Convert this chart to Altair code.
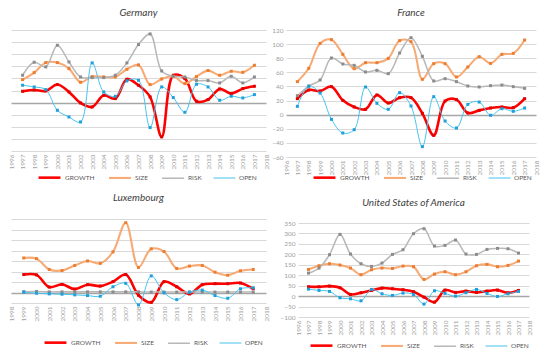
import altair as alt
import pandas as pd

SERIES = ["GROWTH", "SIZE", "RISK", "OPEN"]
LINE_COLORS = ["#FF0000", "#F7AA74", "#B8B8B8", "#45C4F0"]
MARK_COLORS = ["#E00000", "#ED7D31", "#8C8C8C", "#1E9FDB"]
WIDTHS = [2.6, 1.0, 1.0, 1.2]

# Germany 1997-2017
de_years = list(range(1997, 2018))
de_growth = [18.7, 20.9, 19.3, 29.8, 17.6, -0.6, -7.2, 12.1, 6.6, 38.6, 28.7, 9.4, -56.7, 45.2, 39.7, 2.2, 5.0, 22.6, 14.9, 23.1, 27.0]
de_size = [38.0, 49.6, 66.1, 66.1, 56.2, 33.6, 43.0, 42.4, 42.4, 55.1, 62.3, 29.8, 39.1, 43.5, 31.4, 43.0, 52.9, 45.2, 51.8, 50.1, 61.7]
de_risk = [45.2, 66.7, 59.0, 94.8, 67.2, 42.4, 41.3, 41.3, 45.2, 65.6, 95.9, 113.5, 52.3, 43.5, 42.4, 36.4, 36.4, 32.5, 43.5, 32.5, 42.4]
de_open = [28.7, 25.9, 21.5, -12.7, -23.7, -32.0, 65.6, 17.6, 10.5, 35.8, 36.9, -41.3, 25.9, 8.3, -16.0, 30.3, 25.9, 3.9, 10.5, 7.7, 13.2]

# France 1997-2017
fr_years = list(range(1997, 2018))
fr_growth = [22.7, 35.0, 33.5, 39.7, 20.3, 10.9, 7.6, 27.9, 16.5, 24.1, 24.1, 1.9, -29.3, 19.4, 21.3, 2.4, 6.1, 9.4, 10.9, 9.9, 22.7]
fr_size = [46.8, 65.7, 101.0, 106.3, 85.5, 65.2, 73.7, 73.7, 79.8, 104.9, 103.4, 50.1, 72.3, 72.3, 53.4, 67.5, 82.2, 72.7, 85.5, 86.9, 105.8]
fr_risk = [26.9, 40.6, 49.1, 80.3, 71.8, 69.9, 60.5, 62.8, 58.1, 87.4, 109.1, 82.7, 47.7, 51.0, 46.8, 40.6, 39.2, 41.1, 42.0, 39.7, 37.3]
fr_open = [11.8, 40.2, 30.7, -6.6, -26.0, -21.3, 39.2, 16.1, 7.6, 31.2, 12.3, -45.3, 25.5, -9.0, -18.9, 14.6, 17.9, -0.9, 8.5, 4.7, 9.4]

# Luxembourg 1999-2017
lu_years = list(range(1999, 2018))
lu_growth = [85.5, 83.9, 25.8, 38.7, 16.1, 37.1, 30.6, 51.6, 85.5, -12.9, -46.8, 51.6, 27.4, -6.5, 37.1, 41.9, 41.9, 45.2, 17.7]
lu_size = [164.5, 161.3, 109.7, 104.8, 129.0, 150.0, 138.7, 193.5, 332.3, 119.4, 208.0, 195.2, 114.5, 125.8, 129.0, 96.8, 82.3, 103.2, 109.7]
lu_risk = [4, 5, 3, 3, 3, 3, 3, 3, 3, 3, 2, 2, 2, 2, 2, 2, 2, 2, 2]
lu_open = [1.6, -3.2, -6.5, -8.1, -11.3, -14.5, -17.7, 27.4, 43.5, -59.0, 79.0, -1.6, -33.9, 1.6, 11.3, -14.5, -27.4, 17.7, 22.6]

# United States 1997-2017
us_years = list(range(1997, 2018))
us_growth = [44.7, 44.7, 47.9, 39.9, 8.0, 16.0, 27.2, 38.3, 35.1, 30.4, 20.8, -4.8, -28.8, 28.8, 17.6, 24.0, 17.6, 24.0, 28.8, 16.0, 27.2]
us_size = [127.8, 145.4, 155.0, 148.6, 134.2, 102.2, 126.2, 134.2, 132.6, 143.8, 140.6, 79.9, 105.4, 116.6, 102.2, 116.6, 145.4, 151.8, 140.6, 147.0, 167.7]
us_risk = [110.2, 134.2, 198.0, 295.5, 201.3, 155.0, 142.2, 158.1, 199.7, 222.0, 298.7, 322.7, 239.6, 242.8, 268.4, 201.3, 199.7, 223.6, 228.4, 226.8, 206.0]
us_open = [33.5, 27.2, 22.4, -8.0, -12.8, -22.4, 31.9, 11.2, 3.2, 14.4, 8.0, -38.3, 25.6, 12.8, 0.0, 16.0, 31.9, 12.8, -1.6, 11.2, 22.4]

FONT = "Lato"
IND = dict(color="independent", strokeWidth="independent")


def make_df(years, growth, size, risk, opn):
    rows = []
    for name, vals in zip(SERIES, [growth, size, risk, opn]):
        for yr, v in zip(years, vals):
            rows.append({"year": yr, "value": v, "series": name, "ord": SERIES.index(name)})
    return pd.DataFrame(rows)


def panel(title, df, xdom, ydom, ystep, w, h, show_y, legend_x, legend_y, title_offset):
    xaxis = alt.Axis(values=list(range(xdom[0], xdom[1] + 1)), format="d", labelAngle=270,
                     grid=False, domain=False, ticks=False, title=None, labelFontSize=6.5,
                     labelColor="#A0A0A0", labelPadding=3, labelFont=FONT, labelFlush=False,
                     labelOverlap=False)
    yaxis = alt.Axis(values=list(range(ydom[0], ydom[1] + 1, ystep)), grid=True,
                     gridColor=alt.condition("datum.value === 0", alt.value("#A6A6A6"),
                                             alt.value("#D9D9D9")),
                     gridWidth=alt.condition("datum.value === 0", alt.value(1.3), alt.value(1)),
                     domain=False, ticks=False, title=None,
                     labels=show_y, labelFontSize=6.5, labelColor="#A0A0A0", labelPadding=3,
                     labelFont=FONT, labelOverlap=False)
    x = alt.X("year:Q", scale=alt.Scale(domain=xdom, nice=False, zero=False), axis=xaxis)
    y = alt.Y("value:Q", scale=alt.Scale(domain=ydom, nice=False), axis=yaxis)
    leg = alt.Legend(orient="none", legendX=legend_x, legendY=legend_y, direction="horizontal",
                     title=None, symbolType="stroke", symbolSize=480, labelFontSize=6.5,
                     labelColor="#595959", labelFont=FONT, columnPadding=9, labelOffset=3)
    base = alt.Chart(df)
    lines = base.mark_line(interpolate="catmull-rom").encode(
        x=x, y=y,
        color=alt.Color("series:N", scale=alt.Scale(domain=SERIES, range=LINE_COLORS),
                        sort=SERIES, legend=leg),
        strokeWidth=alt.StrokeWidth("series:N", scale=alt.Scale(domain=SERIES, range=WIDTHS),
                                    sort=SERIES, legend=leg),
        order=alt.Order("ord:Q"),
    )
    pts = base.mark_point(shape="square", filled=True, size=9, opacity=1).encode(
        x=x, y=y,
        fill=alt.Fill("series:N", scale=alt.Scale(domain=SERIES, range=MARK_COLORS), legend=None),
    )
    return alt.layer(lines, pts).properties(
        width=w, height=h,
        title=alt.TitleParams(title, fontSize=10, font=FONT, fontStyle="italic",
                              fontWeight="normal", color="#404040", offset=title_offset),
    )


de = panel("Germany", make_df(de_years, de_growth, de_size, de_risk, de_open),
           [1996, 2018], [-80, 120], 20, 255, 121, False, 26, 135, 12)
fr = panel("France", make_df(fr_years, fr_growth, fr_size, fr_risk, fr_open),
           [1996, 2018], [-60, 120], 20, 250, 127, True, 26, 135, 9)
lu = panel("Luxembourg", make_df(lu_years, lu_growth, lu_size, lu_risk, lu_open),
           [1998, 2018], [-50, 350], 50, 255, 84, False, 32, 111, 16)
us = panel("United States of America", make_df(us_years, us_growth, us_size, us_risk, us_open),
           [1996, 2018], [-100, 350], 50, 231, 94, True, 11, 110, 12)

spacer = alt.Chart(pd.DataFrame({"s": [0]})).mark_point(opacity=0).properties(width=1, height=1)

row1 = alt.hconcat(de, fr, spacing=20, bounds="flush").resolve_legend(**IND)
us_col = alt.vconcat(spacer, us, spacing=3, bounds="flush").resolve_legend(**IND)
row2 = alt.hconcat(lu, us_col, spacing=32, bounds="flush").resolve_legend(**IND)
chart = alt.vconcat(row1, row2, spacing=9).resolve_legend(**IND).properties(
    padding=0).configure_view(stroke=None).configure_legend(symbolStrokeWidth=2)

chart.save("out.html", embed_options={"renderer": "svg", "actions": False})
